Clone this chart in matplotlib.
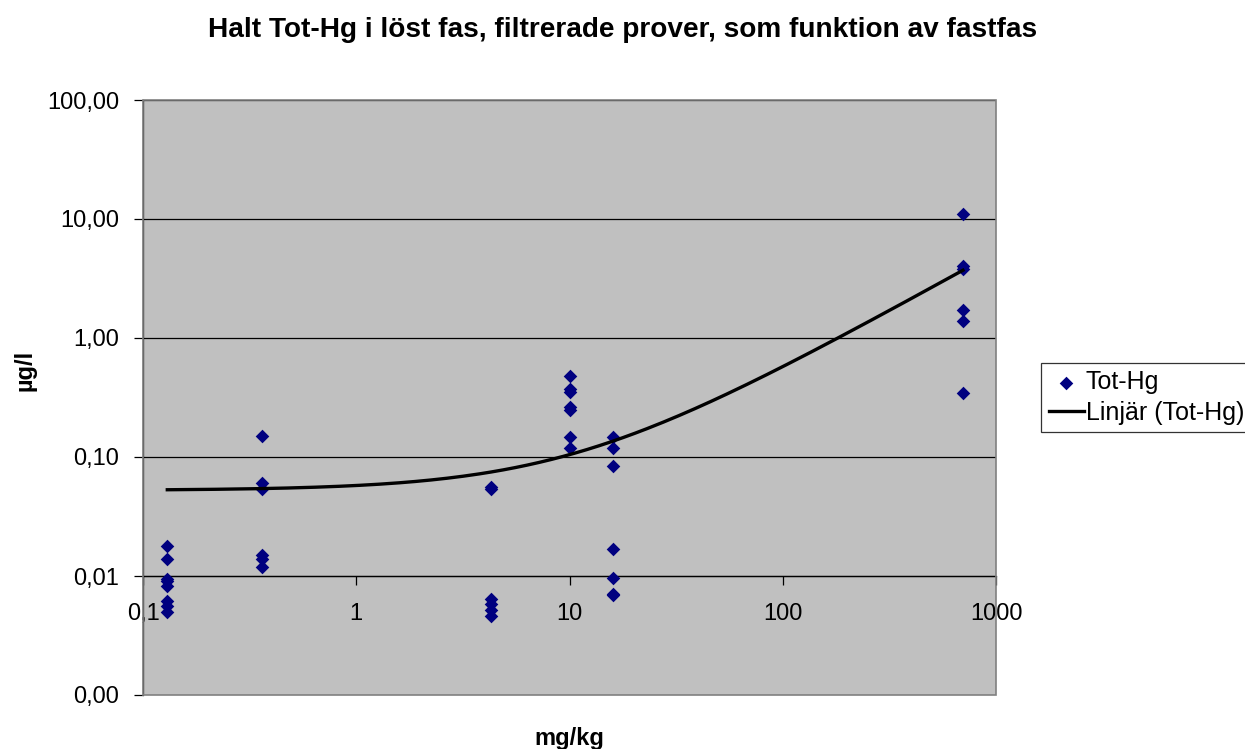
import numpy as np
import matplotlib
matplotlib.use("Agg")
import matplotlib.pyplot as plt
from matplotlib.patches import Rectangle
from matplotlib.ticker import FixedLocator, NullLocator

plt.rcParams['font.family'] = ['Liberation Sans', 'DejaVu Sans']

# Data: solid phase (mg/kg) vs dissolved Tot-Hg (µg/l)
x_vals = [0.13] * 8 + [0.36] * 6 + [4.3] * 6 + [10] * 7 + [16] * 7 + [700] * 6
y_vals = [0.018, 0.014, 0.0095, 0.009, 0.0082, 0.0062, 0.0056, 0.005,
          0.15, 0.060, 0.054, 0.015, 0.014, 0.012,
          0.056, 0.054, 0.0064, 0.0058, 0.0052, 0.0046,
          0.48, 0.37, 0.355, 0.265, 0.248, 0.148, 0.118,
          0.148, 0.118, 0.084, 0.017, 0.0097, 0.0071, 0.0069,
          11.0, 4.0, 3.8, 1.72, 1.40, 0.347]

x_ticks = [0.1, 1, 10, 100, 1000]
x_ticklabels = ["0,1", "1", "10", "100", "1000"]
y_ticks = [0.001, 0.01, 0.1, 1, 10, 100]
y_ticklabels = ["0,00", "0,01", "0,10", "1,00", "10,00", "100,00"]

title = "Halt Tot-Hg i löst fas, filtrerade prover, som funktion av fastfas"
series_name = "Tot-Hg"
trend_name = "Linjär (Tot-Hg)"

x = np.array(x_vals)
y = np.array(y_vals)
slope, intercept = np.polyfit(x, y, 1)

FS = 17

fig = plt.figure(figsize=(12.45, 7.49), dpi=100)
ax = fig.add_axes([143 / 1245, 1 - 695 / 749, (996 - 143) / 1245, (695 - 100) / 749])
ax.set_facecolor('#C0C0C0')
ax.set_xscale('log')
ax.set_yscale('log')
ax.set_xlim(0.1, 1000)
ax.set_ylim(0.001, 100)

for v in y_ticks[1:]:
    ax.axhline(v, color='black', lw=0.9, zorder=1)

ax.scatter(x, y, marker='D', s=48, color='#000080', zorder=3, label=series_name,
           linewidths=0)
xf = np.geomspace(x.min(), x.max(), 200)
ax.plot(xf, slope * xf + intercept, color='black', lw=2.4, zorder=4, label=trend_name)

# spines
for s in ['top', 'right']:
    ax.spines[s].set_visible(False)
ax.spines['bottom'].set_position(('data', 0.01))
ax.spines['bottom'].set_linewidth(0.9)
ax.spines['left'].set_linewidth(0.9)
ax.add_patch(Rectangle((0, 0), 1, 1, transform=ax.transAxes, fill=False,
                       edgecolor='#808080', lw=1.2, zorder=5, clip_on=False))

ax.xaxis.set_major_locator(FixedLocator(x_ticks))
ax.xaxis.set_minor_locator(NullLocator())
ax.set_xticklabels(x_ticklabels)
ax.yaxis.set_major_locator(FixedLocator(y_ticks))
ax.yaxis.set_minor_locator(NullLocator())
ax.set_yticklabels(y_ticklabels)
ax.tick_params(axis='both', direction='out', length=6.5, width=0.9, labelsize=FS,
               colors='black')
ax.tick_params(axis='x', pad=13)
ax.tick_params(axis='y', pad=10.5)

fig.text(623 / 1245, 1 - 30 / 749, title, ha='center', va='center',
         fontsize=20.2, fontweight='bold')
fig.text(25 / 1245, 1 - 370 / 749, "µg/l", ha='center', va='center',
         rotation=90, fontsize=FS, fontweight='bold')
fig.text(569 / 1245, 1 - 738 / 749, "mg/kg", ha='center', va='center',
         fontsize=FS, fontweight='bold')

leg = fig.legend(loc='upper left', bbox_to_anchor=(1041 / 1245, 1 - 363 / 749),
                 frameon=True, fancybox=False, edgecolor='black', fontsize=18,
                 handlelength=1.4, handletextpad=0.1, borderpad=0.3,
                 labelspacing=0.25, borderaxespad=0)
leg.get_frame().set_linewidth(0.9)

fig.savefig("out.png", dpi=100)
